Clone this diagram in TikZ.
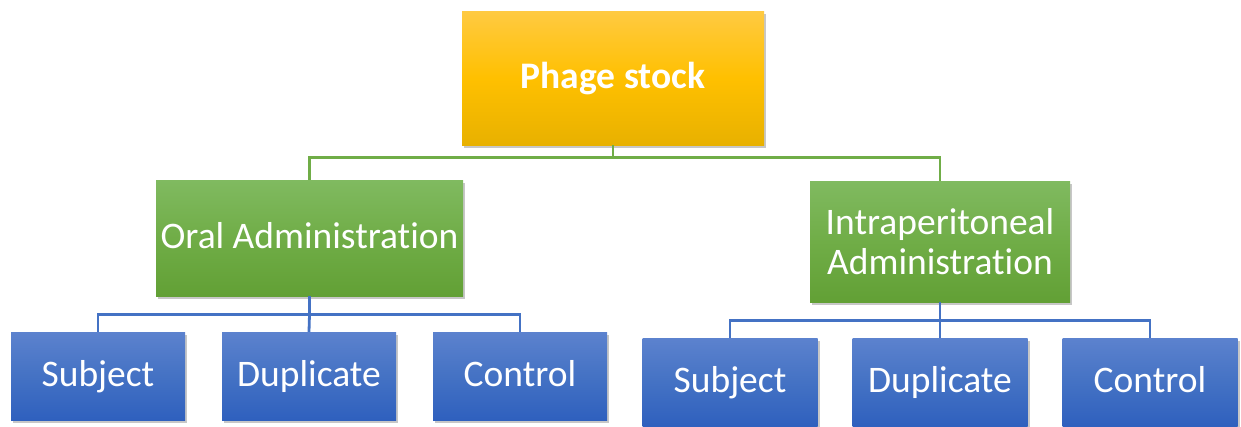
\documentclass[tikz,border=0pt]{standalone}
\usepackage{fontspec}
\setmainfont[RawFeature=-liga]{Carlito}
\usetikzlibrary{shadows}
\definecolor{ylT}{HTML}{FFCA42}
\definecolor{ylM}{HTML}{FFC000}
\definecolor{ylB}{HTML}{E8B100}
\definecolor{grT}{HTML}{80BA60}
\definecolor{grM}{HTML}{70AD47}
\definecolor{grB}{HTML}{62A035}
\definecolor{blT}{HTML}{5C82CE}
\definecolor{blM}{HTML}{4472C4}
\definecolor{blB}{HTML}{2F60BE}
\tikzset{
  boxbase/.style={rectangle, inner sep=2pt, align=center, text=white,
    font=\fontsize{37.5}{40}\selectfont,
    drop shadow={shadow xshift=2pt, shadow yshift=-3pt, opacity=0.22, fill=black}},
  oneline/.style={text height=28pt, text depth=7pt},
  ybox/.style={boxbase, oneline, top color=ylT, bottom color=ylB, middle color=ylM,
    font=\fontsize{37.5}{43}\selectfont\bfseries},
  gbox/.style={boxbase, top color=grT, bottom color=grB, middle color=grM},
  bbox/.style={boxbase, oneline, top color=blT, bottom color=blB, middle color=blM,
    minimum width=174pt, minimum height=88pt},
  gline/.style={draw=grM, line width=2.8pt},
  bline/.style={draw=blM, line width=2.8pt}
}
\begin{document}
\begin{tikzpicture}[x=1pt,y=-1pt]
\useasboundingbox (0,0) rectangle (1241,426);
\node[ybox, minimum width=302pt, minimum height=134pt] (top) at (613,78) {Phage stock};
\node[gbox, oneline, minimum width=307pt, minimum height=116pt] (oral) at (309.5,238) {Oral Administration};
\node[gbox, minimum width=260pt, minimum height=121pt] (ip) at (940,241.5) {Intraperitoneal\\Administration};
\node[bbox] (ls) at (98,376) {Subject};
\node[bbox] (ld) at (309,376) {Duplicate};
\node[bbox] (lc) at (520,376) {Control};
\node[bbox, minimum width=175pt] (rs) at (730,382) {Subject};
\node[bbox, minimum width=175pt] (rd) at (940,382) {Duplicate};
\node[bbox, minimum width=175pt] (rc) at (1150,382) {Control};
\draw[gline] (top.south) -- ++(0,12) coordinate (gbus) -| (oral.north);
\draw[gline] (gbus) -| (ip.north);
\draw[bline] (oral.south) -- ++(0,18) coordinate (lbus) -| (ls.north);
\draw[bline] (lbus) -- (ld.north);
\draw[bline] (lbus) -| (lc.north);
\draw[bline] (ip.south) -- ++(0,18) coordinate (rbus) -| (rs.north);
\draw[bline] (rbus) -- (rd.north);
\draw[bline] (rbus) -| (rc.north);
\end{tikzpicture}
\end{document}
